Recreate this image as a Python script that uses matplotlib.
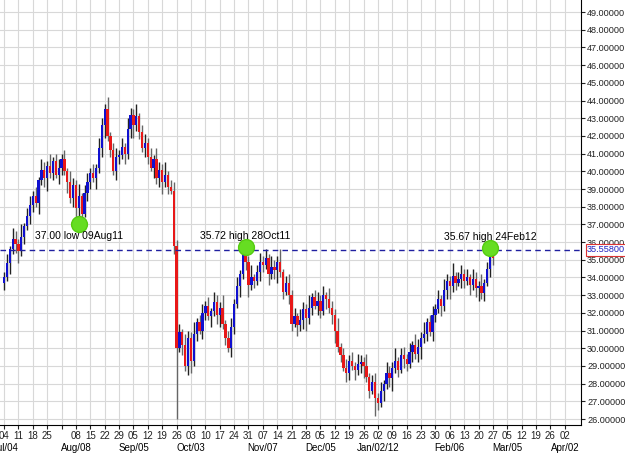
import matplotlib
matplotlib.use("Agg")
import matplotlib.pyplot as plt
import matplotlib.transforms as mtrans
import pandas as pd
import numpy as np

plt.rcParams['font.family'] = ['Liberation Sans', 'DejaVu Sans']

start = "2011-07-04"
closes = [
 34.0,34.8,35.6,36.2,35.9,
 35.5,36.3,36.9,37.5,38.1,
 38.6,38.2,39.5,40.1,39.6,
 40.3,39.9,40.6,39.8,40.2,
 40.7,40.0,39.4,38.5,39.2,
 37.9,38.6,37.6,38.8,39.4,
 39.9,39.6,40.2,41.3,42.6,
 43.5,42.0,41.2,40.0,40.8,
 40.9,41.4,41.0,42.4,43.2,
 42.6,43.1,42.2,41.3,41.6,
 40.8,40.2,40.7,39.6,40.1,
 39.4,39.8,39.1,38.9,35.8,
 30.0,30.9,30.2,29.0,30.6,
 29.3,30.8,31.5,31.0,32.0,
 32.4,31.8,32.1,32.6,31.9,
 32.3,31.4,30.6,30.0,31.2,
 32.5,33.5,34.2,35.5,34.9,
 33.6,34.0,33.8,34.3,34.9,
 34.7,35.1,34.2,34.6,34.4,
 34.9,34.3,33.2,33.7,33.0,
 31.4,31.8,31.3,31.6,32.2,
 31.7,32.3,32.9,32.4,32.7,
 32.1,33.0,32.8,32.3,31.9,
 31.0,30.1,29.6,28.9,28.6,
 29.3,29.0,28.8,29.1,29.2,
 29.0,28.4,27.6,28.1,27.2,
 26.9,27.6,28.0,28.6,28.3,
 28.9,29.3,28.8,29.6,29.4,
 29.1,29.8,30.2,29.7,30.1,
 30.6,30.8,31.5,30.9,31.9,
 32.2,32.8,32.4,33.3,33.8,
 33.5,34.1,33.7,33.9,34.2,
 33.8,34.0,33.6,33.9,33.4,
 33.5,33.1,33.7,34.5,35.3,
 35.1]
first_open = 33.7
wick_up = [0.3,0.5,0.2,0.6,0.4,0.3,0.7,0.2,0.4,0.5]
wick_dn = [0.4,0.2,0.6,0.3,0.5,0.7,0.3,0.4,0.2,0.5]
low_over = {"2011-08-09": 37.0, "2011-09-26": 26.0, "2011-12-30": 26.2}
high_over = {"2011-10-28": 35.72, "2012-02-24": 35.67}
annots = [("2011-08-09", 37.0, "37.00 low 09Aug11", "low"),
          ("2011-10-28", 35.72, "35.72 high 28Oct11", "high"),
          ("2012-02-24", 35.67, "35.67 high 24Feb12", "high")]
last_price = 35.558
month_dates = ["2011-07-04","2011-08-08","2011-09-05","2011-10-03","2011-11-07","2011-12-05",
               "2012-01-02","2012-02-06","2012-03-05","2012-04-02"]
month_labels = ["Jul/04","Aug/08","Sep/05","Oct/03","Nov/07","Dec/05","Jan/02/12","Feb/06","Mar/05","Apr/02"]

days = pd.bdate_range(start, "2012-04-06")
idx = {d.strftime("%Y-%m-%d"): i for i, d in enumerate(days)}
n = len(closes)
opens = [first_open] + closes[:-1]
highs, lows = [], []
for i in range(n):
    h = max(opens[i], closes[i]) + wick_up[i % 10]
    l = min(opens[i], closes[i]) - wick_dn[i % 10]
    key = days[i].strftime("%Y-%m-%d")
    if key in low_over: l = low_over[key]
    if key in high_over: h = high_over[key]
    highs.append(h); lows.append(l)

fig = plt.figure(figsize=(6.25, 4.53), dpi=100)
ax = fig.add_axes([0.0, 0.062, 0.93, 0.938])
ax.set_xlim(-1.4, 200.7)
ax.set_ylim(25.67, 49.68)

x = np.arange(n)
for i in range(n):
    up = closes[i] >= opens[i]
    ax.vlines(x[i], lows[i], highs[i], color="#222222" if up else "#666666", lw=1.0, zorder=2)
    col = "#1010d0" if up else "#e81818"
    b = min(opens[i], closes[i]); hgt = max(abs(closes[i]-opens[i]), 0.06)
    ax.bar(x[i], hgt, bottom=b, width=0.8, color=col, zorder=3)

ax.axhline(last_price, color="#2020a0", ls=(0, (4, 3)), lw=1, zorder=4)

for d, v, t, kind in annots:
    xi = idx[d]
    ax.scatter([xi], [v], s=130, color="#66dd22", zorder=5, edgecolors="#55cc11")
    ax.text(xi, v - 0.35 if kind == "low" else v + 0.35, t, ha="center",
            va="top" if kind == "low" else "bottom", fontsize=7.5, zorder=6)

mondays = [d for d in days if d.weekday() == 0]
ticks = [idx[d.strftime("%Y-%m-%d")] for d in mondays]
labels = ["" if d.strftime("%Y-%m-%d") == "2011-08-01" else d.strftime("%d") for d in mondays]
ax.set_xticks(ticks)
ax.set_xticklabels(labels, fontsize=7)
trans = mtrans.blended_transform_factory(ax.transData, ax.transAxes)
for d, lab in zip(month_dates, month_labels):
    p = idx[d]
    ax.text(p - 4 if lab == "Jul/04" else p, -0.043, lab, transform=trans, fontsize=7,
            ha="left" if lab == "Jul/04" else "center", va="top")

ax.yaxis.tick_right()
yt = np.arange(26, 50, 1)
ax.set_yticks(yt)
ax.set_yticklabels([f"{v:.5f}" for v in yt], fontsize=6.6)
ax.tick_params(axis="both", length=3, pad=1.2, colors="#222222")
ax.grid(True, color="#d8d8d8", lw=0.8, zorder=0)
ax.set_axisbelow(True)
for s in ["top", "left"]:
    ax.spines[s].set_visible(False)
ax.text(1.01, last_price, f"{last_price:.5f}", transform=mtrans.blended_transform_factory(ax.transAxes, ax.transData),
        fontsize=6.6, color="#2020c0", va="center", ha="left", zorder=10,
        bbox=dict(boxstyle="square,pad=0.12", fc="white", ec="#dd3333", lw=0.8))
fig.savefig("out.png", dpi=100)
